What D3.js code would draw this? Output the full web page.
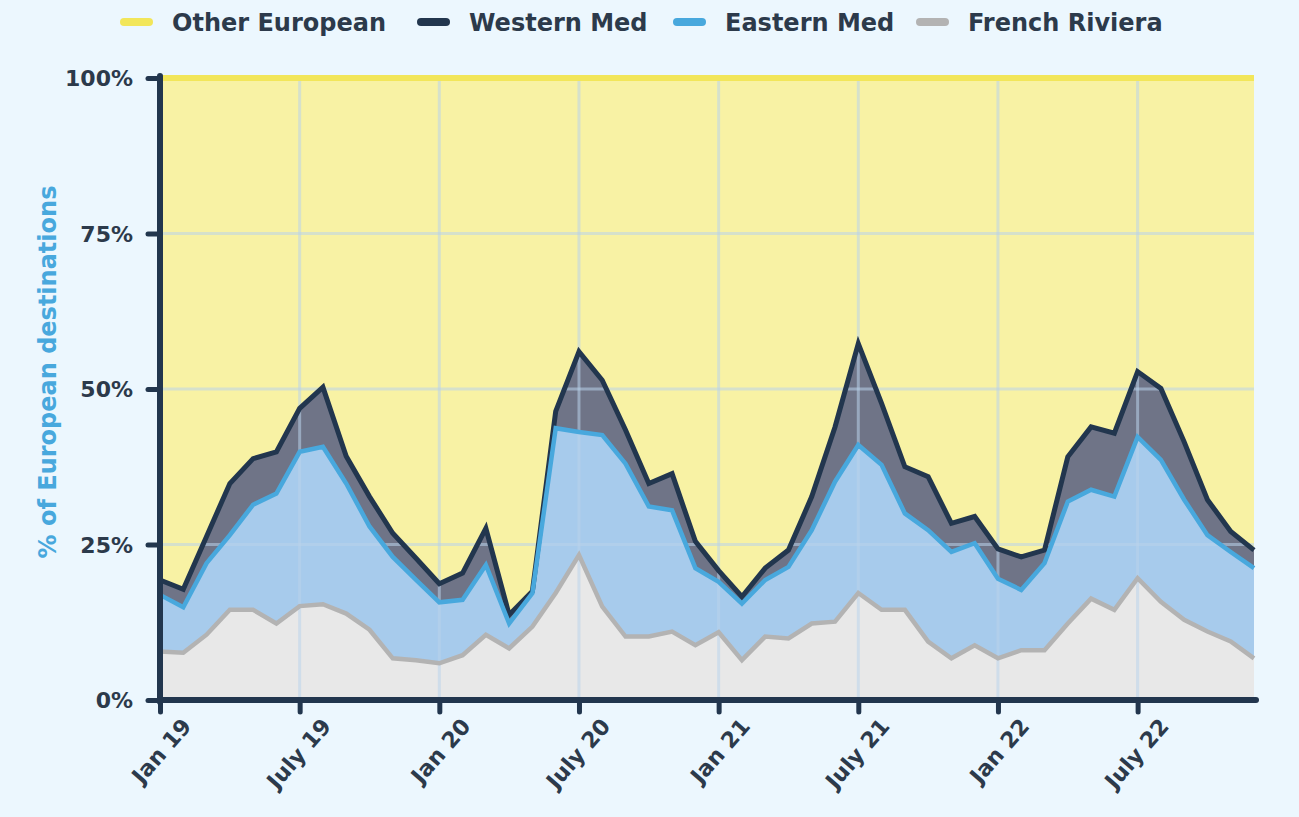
<!DOCTYPE html>
<html>
<head>
<meta charset="utf-8">
<script src="https://cdn.jsdelivr.net/npm/d3@7/dist/d3.min.js"></script>
<style>
  html, body { margin: 0; padding: 0; background: #ecf7fe; }
  svg { display: block; }
  text { font-family: "DejaVu Sans", "Inter", sans-serif; }
</style>
</head>
<body>
<svg id="chart" width="1299" height="817"></svg>
<script>
// ---- Data (% of European destinations, monthly Jan 2019 – Dec 2022) ----
const months = [
  "Jan 19","Feb 19","Mar 19","Apr 19","May 19","Jun 19","July 19","Aug 19","Sep 19","Oct 19","Nov 19","Dec 19",
  "Jan 20","Feb 20","Mar 20","Apr 20","May 20","Jun 20","July 20","Aug 20","Sep 20","Oct 20","Nov 20","Dec 20",
  "Jan 21","Feb 21","Mar 21","Apr 21","May 21","Jun 21","July 21","Aug 21","Sep 21","Oct 21","Nov 21","Dec 21",
  "Jan 22","Feb 22","Mar 22","Apr 22","May 22","Jun 22","July 22","Aug 22","Sep 22","Oct 22","Nov 22","Dec 22"
];
const frenchRiviera = [7.8,7.6,10.5,14.5,14.5,12.3,15.1,15.4,13.9,11.3,6.7,6.4,
  5.9,7.2,10.5,8.3,11.8,17.2,23.3,15.0,10.2,10.2,11.0,8.8,
  10.9,6.4,10.2,9.9,12.3,12.6,17.2,14.5,14.5,9.4,6.7,8.8,
  6.7,8.0,8.0,12.3,16.3,14.5,19.6,15.8,12.9,11.0,9.4,6.7];
const easternMed = [9.1,7.3,11.5,12.0,16.9,20.9,24.8,25.3,20.9,16.6,16.3,12.9,
  9.8,8.9,11.2,4.0,5.4,26.5,19.8,27.6,27.8,20.9,19.5,12.4,
  8.1,9.1,9.1,11.5,15.0,22.5,23.8,23.3,15.5,17.9,17.1,16.4,
  12.8,9.7,14.0,19.6,17.5,18.2,22.7,22.8,19.3,15.5,14.4,14.5];
const westernMed = [2.4,2.9,4.3,8.3,7.4,6.7,7.0,9.6,4.4,4.8,3.8,3.5,
  3.0,4.3,5.9,1.4,0.3,2.7,12.9,8.8,5.4,3.7,5.9,4.3,
  1.8,1.1,1.9,2.7,5.4,8.8,16.3,9.9,7.5,8.6,4.6,4.3,
  4.8,5.3,2.1,7.2,10.1,10.2,10.5,11.5,9.3,5.7,3.3,2.9];
const otherEuropean = [80.7,82.2,73.7,65.2,61.2,60.1,53.1,49.7,60.8,67.3,73.2,77.2,
  81.3,79.6,72.4,86.3,82.5,53.6,44.0,48.6,56.6,65.2,63.6,74.5,
  79.2,83.4,78.8,75.9,67.3,56.1,42.7,52.3,62.5,64.1,71.6,70.5,
  75.7,77.0,75.9,60.9,56.1,57.1,47.2,49.9,58.5,67.8,72.9,75.9];
const yTicks = [0, 25, 50, 75, 100];
const xTickIdx = [0, 6, 12, 18, 24, 30, 36, 42];
const xTickLabels = ["Jan 19","July 19","Jan 20","July 20","Jan 21","July 21","Jan 22","July 22"];
const seriesKeys = ["French Riviera", "Eastern Med", "Western Med", "Other European"];
const legendOrder = ["Other European", "Western Med", "Eastern Med", "French Riviera"];

// ---- Build table ----
const table = months.map((m, i) => ({
  i: i,
  "French Riviera": frenchRiviera[i],
  "Eastern Med": easternMed[i],
  "Western Med": westernMed[i],
  "Other European": otherEuropean[i]
}));

const styles = {
  "French Riviera": { fill: "#e8e8e8", line: "#b3b3b3" },
  "Eastern Med":    { fill: "#a7cbec", line: "#48a8dd" },
  "Western Med":    { fill: "#6f7487", line: "#22364e" },
  "Other European": { fill: "#f8f2a4", line: "#f2e65a" }
};

const svg = d3.select("#chart");
const L = 160, R = 1254, T = 78, B = 700;

const x = d3.scaleLinear().domain([0, months.length - 1]).range([L, R]);
const y = d3.scaleLinear().domain([0, 100]).range([B, T]);

const stack = d3.stack().keys(seriesKeys);
const layers = stack(table);

const area = d3.area()
  .x(d => x(d.data.i))
  .y0(d => y(d[0]))
  .y1(d => y(d[1]));
const topLine = d3.line()
  .x(d => x(d.data.i))
  .y(d => y(d[1]));

// Areas
svg.append("g").selectAll("path")
  .data(layers)
  .join("path")
  .attr("d", area)
  .attr("fill", d => styles[d.key].fill);

// Grid lines (semi-transparent, on top of fills)
const grid = svg.append("g");
grid.selectAll("line.h")
  .data(yTicks.filter(v => v > 0 && v < 100))
  .join("line")
  .attr("x1", L).attr("x2", R)
  .attr("y1", d => y(d)).attr("y2", d => y(d))
  .attr("stroke", "rgba(185,212,235,0.55)")
  .attr("stroke-width", 3);
grid.selectAll("line.v")
  .data(xTickIdx.filter(v => v > 0))
  .join("line")
  .attr("x1", d => x(d)).attr("x2", d => x(d))
  .attr("y1", T).attr("y2", B)
  .attr("stroke", "rgba(185,212,235,0.55)")
  .attr("stroke-width", 3);

// Lines (top edge of each layer)
const lineOrder = ["Other European", "Western Med", "Eastern Med", "French Riviera"];
const lineG = svg.append("g");
lineOrder.forEach(k => {
  const layer = layers.find(l => l.key === k);
  lineG.append("path")
    .datum(layer)
    .attr("d", topLine)
    .attr("fill", "none")
    .attr("stroke", styles[k].line)
    .attr("stroke-width", k === "Western Med" ? 5 : (k === "Other European" ? 6 : 4.5))
    .attr("stroke-linejoin", "miter")
    .attr("stroke-miterlimit", 4);
});

// Axes
const axisColor = "#22364e";
const textColor = "#2c3a4b";

const yAxis = d3.axisLeft(y).tickValues(yTicks).tickFormat(d => d + "%").tickSize(12).tickPadding(15);
const yg = svg.append("g").attr("transform", `translate(${L},0)`).call(yAxis);
yg.select(".domain").remove();
yg.selectAll(".tick line").attr("stroke", axisColor).attr("stroke-width", 5).attr("stroke-linecap", "round");
yg.selectAll(".tick text")
  .attr("fill", textColor)
  .style("font-size", "22px")
  .style("font-weight", 700)
  .attr("dy", "0.36em");

const xAxis = d3.axisBottom(x).tickValues(xTickIdx).tickFormat((d, i) => xTickLabels[i]).tickSize(12).tickPadding(4);
const xg = svg.append("g").attr("transform", `translate(0,${B})`).call(xAxis);
xg.select(".domain").remove();
xg.selectAll(".tick line").attr("stroke", axisColor).attr("stroke-width", 5).attr("stroke-linecap", "round");
xg.selectAll(".tick text")
  .attr("fill", textColor)
  .style("font-size", "22px")
  .style("font-weight", 700)
  .attr("text-anchor", "end")
  .attr("dy", "0.3em")
  .attr("transform", "translate(15,12) rotate(-49)");

// axis lines
svg.append("line").attr("x1", L).attr("x2", L).attr("y1", T - 2).attr("y2", B + 2)
  .attr("stroke", axisColor).attr("stroke-width", 6).attr("stroke-linecap", "round");
svg.append("line").attr("x1", L).attr("x2", R + 2).attr("y1", B).attr("y2", B)
  .attr("stroke", axisColor).attr("stroke-width", 6).attr("stroke-linecap", "round");

// Y axis title
svg.append("text")
  .attr("transform", `translate(56,372) rotate(-90)`)
  .attr("text-anchor", "middle")
  .attr("fill", "#48a8dd")
  .style("font-size", "24px")
  .style("font-weight", 700)
  .text("% of European destinations");

// Legend
const legendX = [120, 417, 673, 916];
const lg = svg.append("g");
legendOrder.forEach((k, i) => {
  const g = lg.append("g").attr("transform", `translate(${legendX[i]},22)`);
  g.append("line").attr("x1", 4).attr("x2", 29).attr("y1", 0).attr("y2", 0)
    .attr("stroke", styles[k].line).attr("stroke-width", 8).attr("stroke-linecap", "round");
  g.append("text").attr("x", 52).attr("y", 0).attr("dy", "0.36em")
    .attr("fill", textColor)
    .style("font-size", "24px")
    .style("font-weight", 700)
    .text(k);
});
</script>
</body>
</html>
